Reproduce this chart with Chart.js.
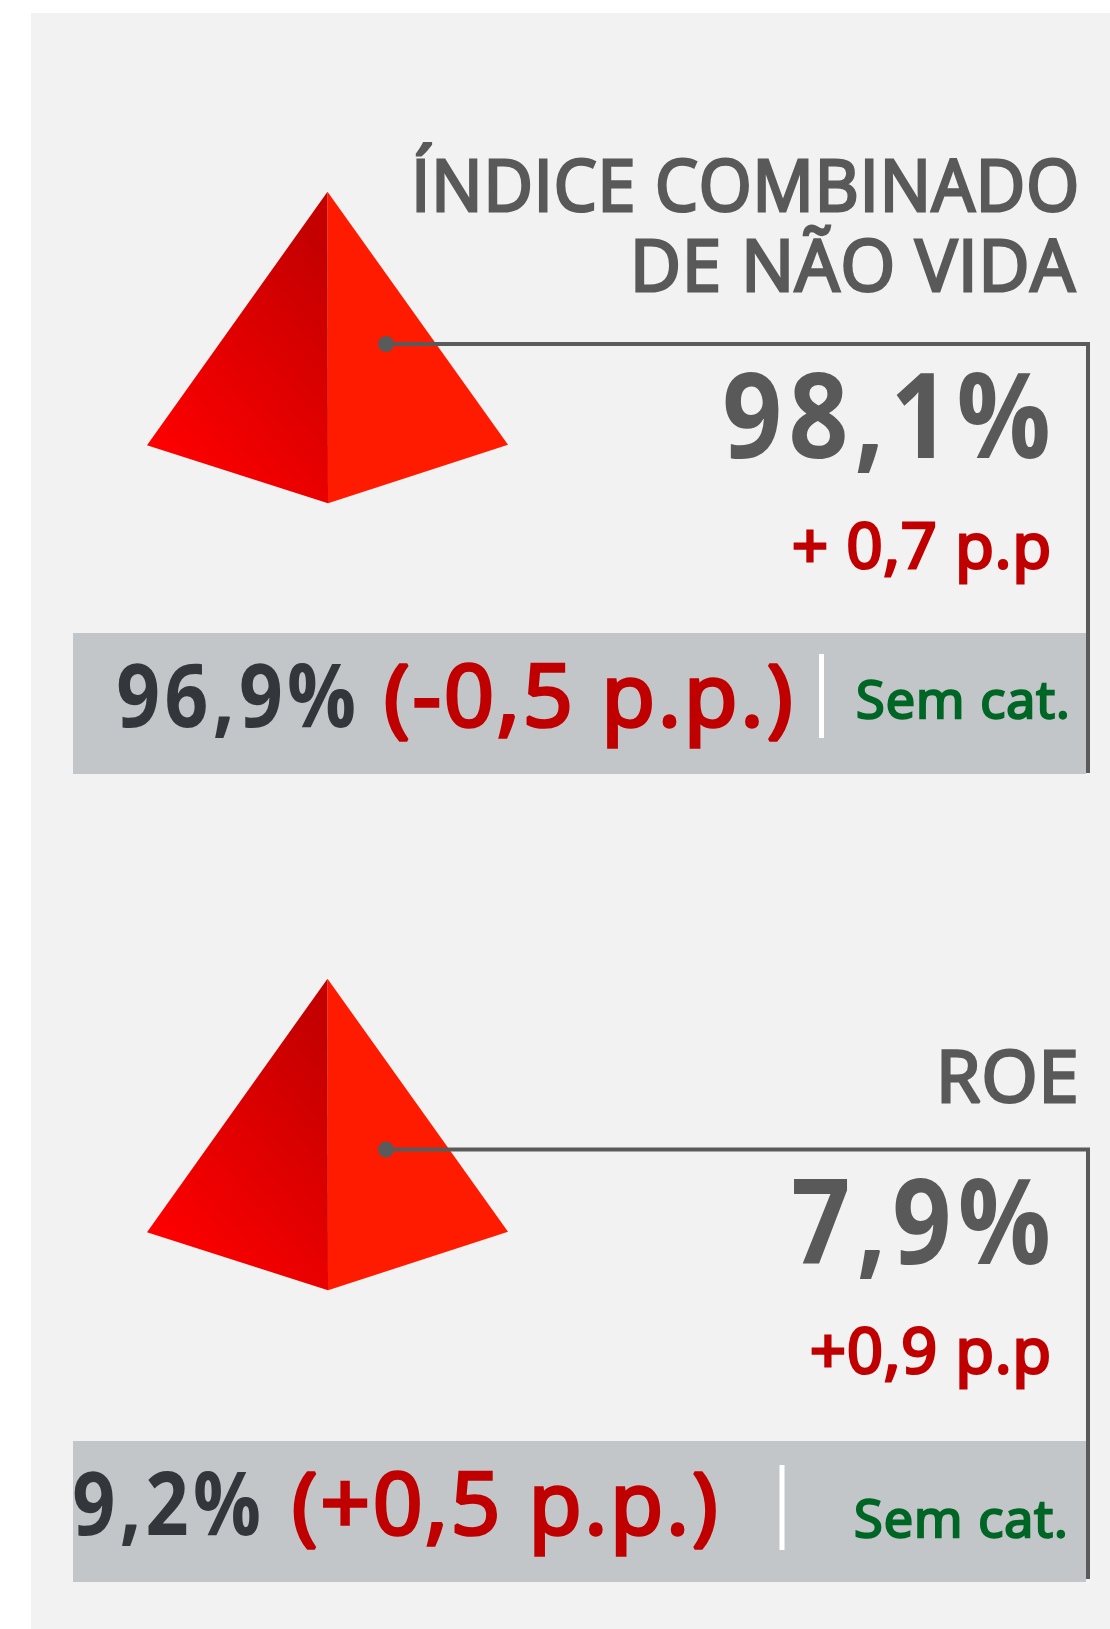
<!DOCTYPE html>
<html><head><meta charset="utf-8">
<style>html,body{margin:0;padding:0;background:#fff}canvas{display:block}</style>
<script src="https://cdn.jsdelivr.net/npm/chart.js@4"></script></head>
<body><canvas id="c" width="1110" height="1629"></canvas>
<script>
// Data
const kpiTitles = [["ÍNDICE COMBINADO", "DE NÃO VIDA"], ["ROE"]];
const kpiValues = ["98,1%", "7,9%"];
const kpiChanges = ["+ 0,7 p.p", "+0,9 p.p"];
const peerValues = ["96,9%", "9,2%"];
const peerChanges = ["(-0,5 p.p.)", "(+0,5 p.p.)"];
const ratingNotes = ["Sem cat.", "Sem cat."];

// Shape geometry, in page units of the hidden scales
const panelXs = [31, 1110, 1110, 31, 31];
const panelYs = [13, 13, 1629, 1629, 13];
const blockOffsets = [0, 787];
const pyramidLeftXs = [327.5, 147, 328, 327.5];
const pyramidLeftYs = [191.7, 445.3, 503.3, 191.7];
const pyramidRightXs = [327.5, 508, 328, 327.5];
const pyramidRightYs = [191.7, 444.8, 503.3, 191.7];
const boxXs = [73, 1086];
const boxYs = [[633, 774], [1441, 1582]];
const connectorXs = [386, 1088, 1088];
const connectorYs = [[344, 344, 773], [1149.5, 1149.5, 1579]];
const dividerXs = [821.5, 782];
const dividerYs = [[654, 738], [1465, 1550]];

// Text layout: [left, right, baseline]
const FONT = '"Open Sans"';
const textLayout = [
  {titles:[[417,1075,211],[636,1075,291]], value:[725,1048,458], change:[795,1048,568], peer:[118,354,727], peerChange:[387,789,726], note:[858,1066,718]},
  {titles:[[942,1075,1102]], value:[794,1048,1264], change:[813,1048,1373], peer:[74,259,1535], peerChange:[295,714,1534], note:[856,1064,1537]}
];
const fontSizes = {title:71, value:118, change:62, peer:87, peerChange:86, note:52};
const fontWeights = {title:400, value:700, change:400, peer:700, peerChange:400, note:400};
const strokeWidths = {title:3, value:0, change:3, peer:0, peerChange:3.6, note:2.4};
const letterSpacings = {title:'1px', value:'7px', change:'1px', peer:'5px', peerChange:'3px', note:'1px'};
const colors = {title:'#595959', value:'#595959', change:'#c00000', peer:'#33373b', peerChange:'#c00000', note:'#006625'};

const pts = (xs, ys) => xs.map((x, i) => ({x, y: ys[i]}));
const shape = (data, color, order) => ({type:'scatter', data, showLine:true, fill:'shape', backgroundColor:color, borderWidth:0, borderColor:'transparent', pointRadius:0, tension:0, order});
const stroke = (data, color, width, order) => ({type:'scatter', data, showLine:true, fill:false, borderColor:color, borderWidth:width, pointRadius:0, tension:0, borderCapStyle:'butt', borderJoinStyle:'miter', order});

function leftFace(off) {
  return function (ctx) {
    const {chart} = ctx; const a = chart.chartArea; if (!a) return '#e00000';
    const sx = chart.scales.x, sy = chart.scales.y;
    const g = chart.ctx.createLinearGradient(sx.getPixelForValue(147), sy.getPixelForValue(445 + off), sx.getPixelForValue(345), sy.getPixelForValue(270 + off));
    g.addColorStop(0, '#ff0000'); g.addColorStop(1, '#c40000');
    return g;
  };
}

const datasets = [shape(pts(panelXs, panelYs), '#f2f2f2', 100)];
blockOffsets.forEach((off, i) => {
  const [bx0, bx1] = boxXs, [by0, by1] = boxYs[i];
  datasets.push(shape(pts([bx0,bx1,bx1,bx0,bx0],[by0,by0,by1,by1,by0]), '#c3c6c9', 90));
  datasets.push(shape(pts(pyramidLeftXs, pyramidLeftYs.map(y => y + off)), leftFace(off), 80));
  datasets.push(shape(pts(pyramidRightXs, pyramidRightYs.map(y => y + off)), '#ff1b00', 80));
  datasets.push(stroke(pts([dividerXs[i],dividerXs[i]], dividerYs[i]), '#ffffff', 5, 70));
  datasets.push(stroke(pts(connectorXs, connectorYs[i]), '#5a5a5a', 4, 60));
  datasets.push({type:'scatter', data:[{x:connectorXs[0], y:connectorYs[i][0]}], pointRadius:8, pointBackgroundColor:'#5a5a5a', pointBorderWidth:0, showLine:false, order:50});
});

const textPlugin = {
  id:'kpiText',
  afterDatasetsDraw(chart) {
    const {ctx, scales:{x, y}} = chart;
    const put = (text, box, kind) => {
      const [l, r, b] = box;
      ctx.save();
      ctx.font = `${fontWeights[kind]} ${fontSizes[kind]}px ${FONT}`;
      ctx.fontKerning = 'none';
      ctx.letterSpacing = letterSpacings[kind];
      ctx.fillStyle = colors[kind];
      ctx.strokeStyle = colors[kind];
      ctx.lineWidth = strokeWidths[kind];
      ctx.lineJoin = 'miter';
      ctx.miterLimit = 2;
      ctx.textAlign = 'left'; ctx.textBaseline = 'alphabetic';
      const m = ctx.measureText(text);
      const w = m.actualBoundingBoxRight + m.actualBoundingBoxLeft;
      const left = x.getPixelForValue(l), right = x.getPixelForValue(r);
      const sx = (right - left) / w;
      ctx.translate(left + m.actualBoundingBoxLeft * sx, y.getPixelForValue(b));
      ctx.scale(sx, 1);
      if (strokeWidths[kind] > 0) ctx.strokeText(text, 0, 0);
      ctx.fillText(text, 0, 0);
      ctx.restore();
    };
    textLayout.forEach((t, i) => {
      kpiTitles[i].forEach((line, j) => put(line, t.titles[j], 'title'));
      put(kpiValues[i], t.value, 'value');
      put(kpiChanges[i], t.change, 'change');
      put(peerValues[i], t.peer, 'peer');
      put(peerChanges[i], t.peerChange, 'peerChange');
      put(ratingNotes[i], t.note, 'note');
    });
  }
};

new Chart(document.getElementById('c'), {
  type:'scatter',
  data:{datasets},
  options:{
    responsive:false, animation:false, events:[],
    layout:{padding:0, autoPadding:false},
    plugins:{legend:{display:false}, tooltip:{enabled:false}, title:{display:false}},
    scales:{
      x:{type:'linear', min:0, max:1110, display:false},
      y:{type:'linear', min:0, max:1629, reverse:true, display:false}
    }
  },
  plugins:[textPlugin]
});
</script></body></html>
